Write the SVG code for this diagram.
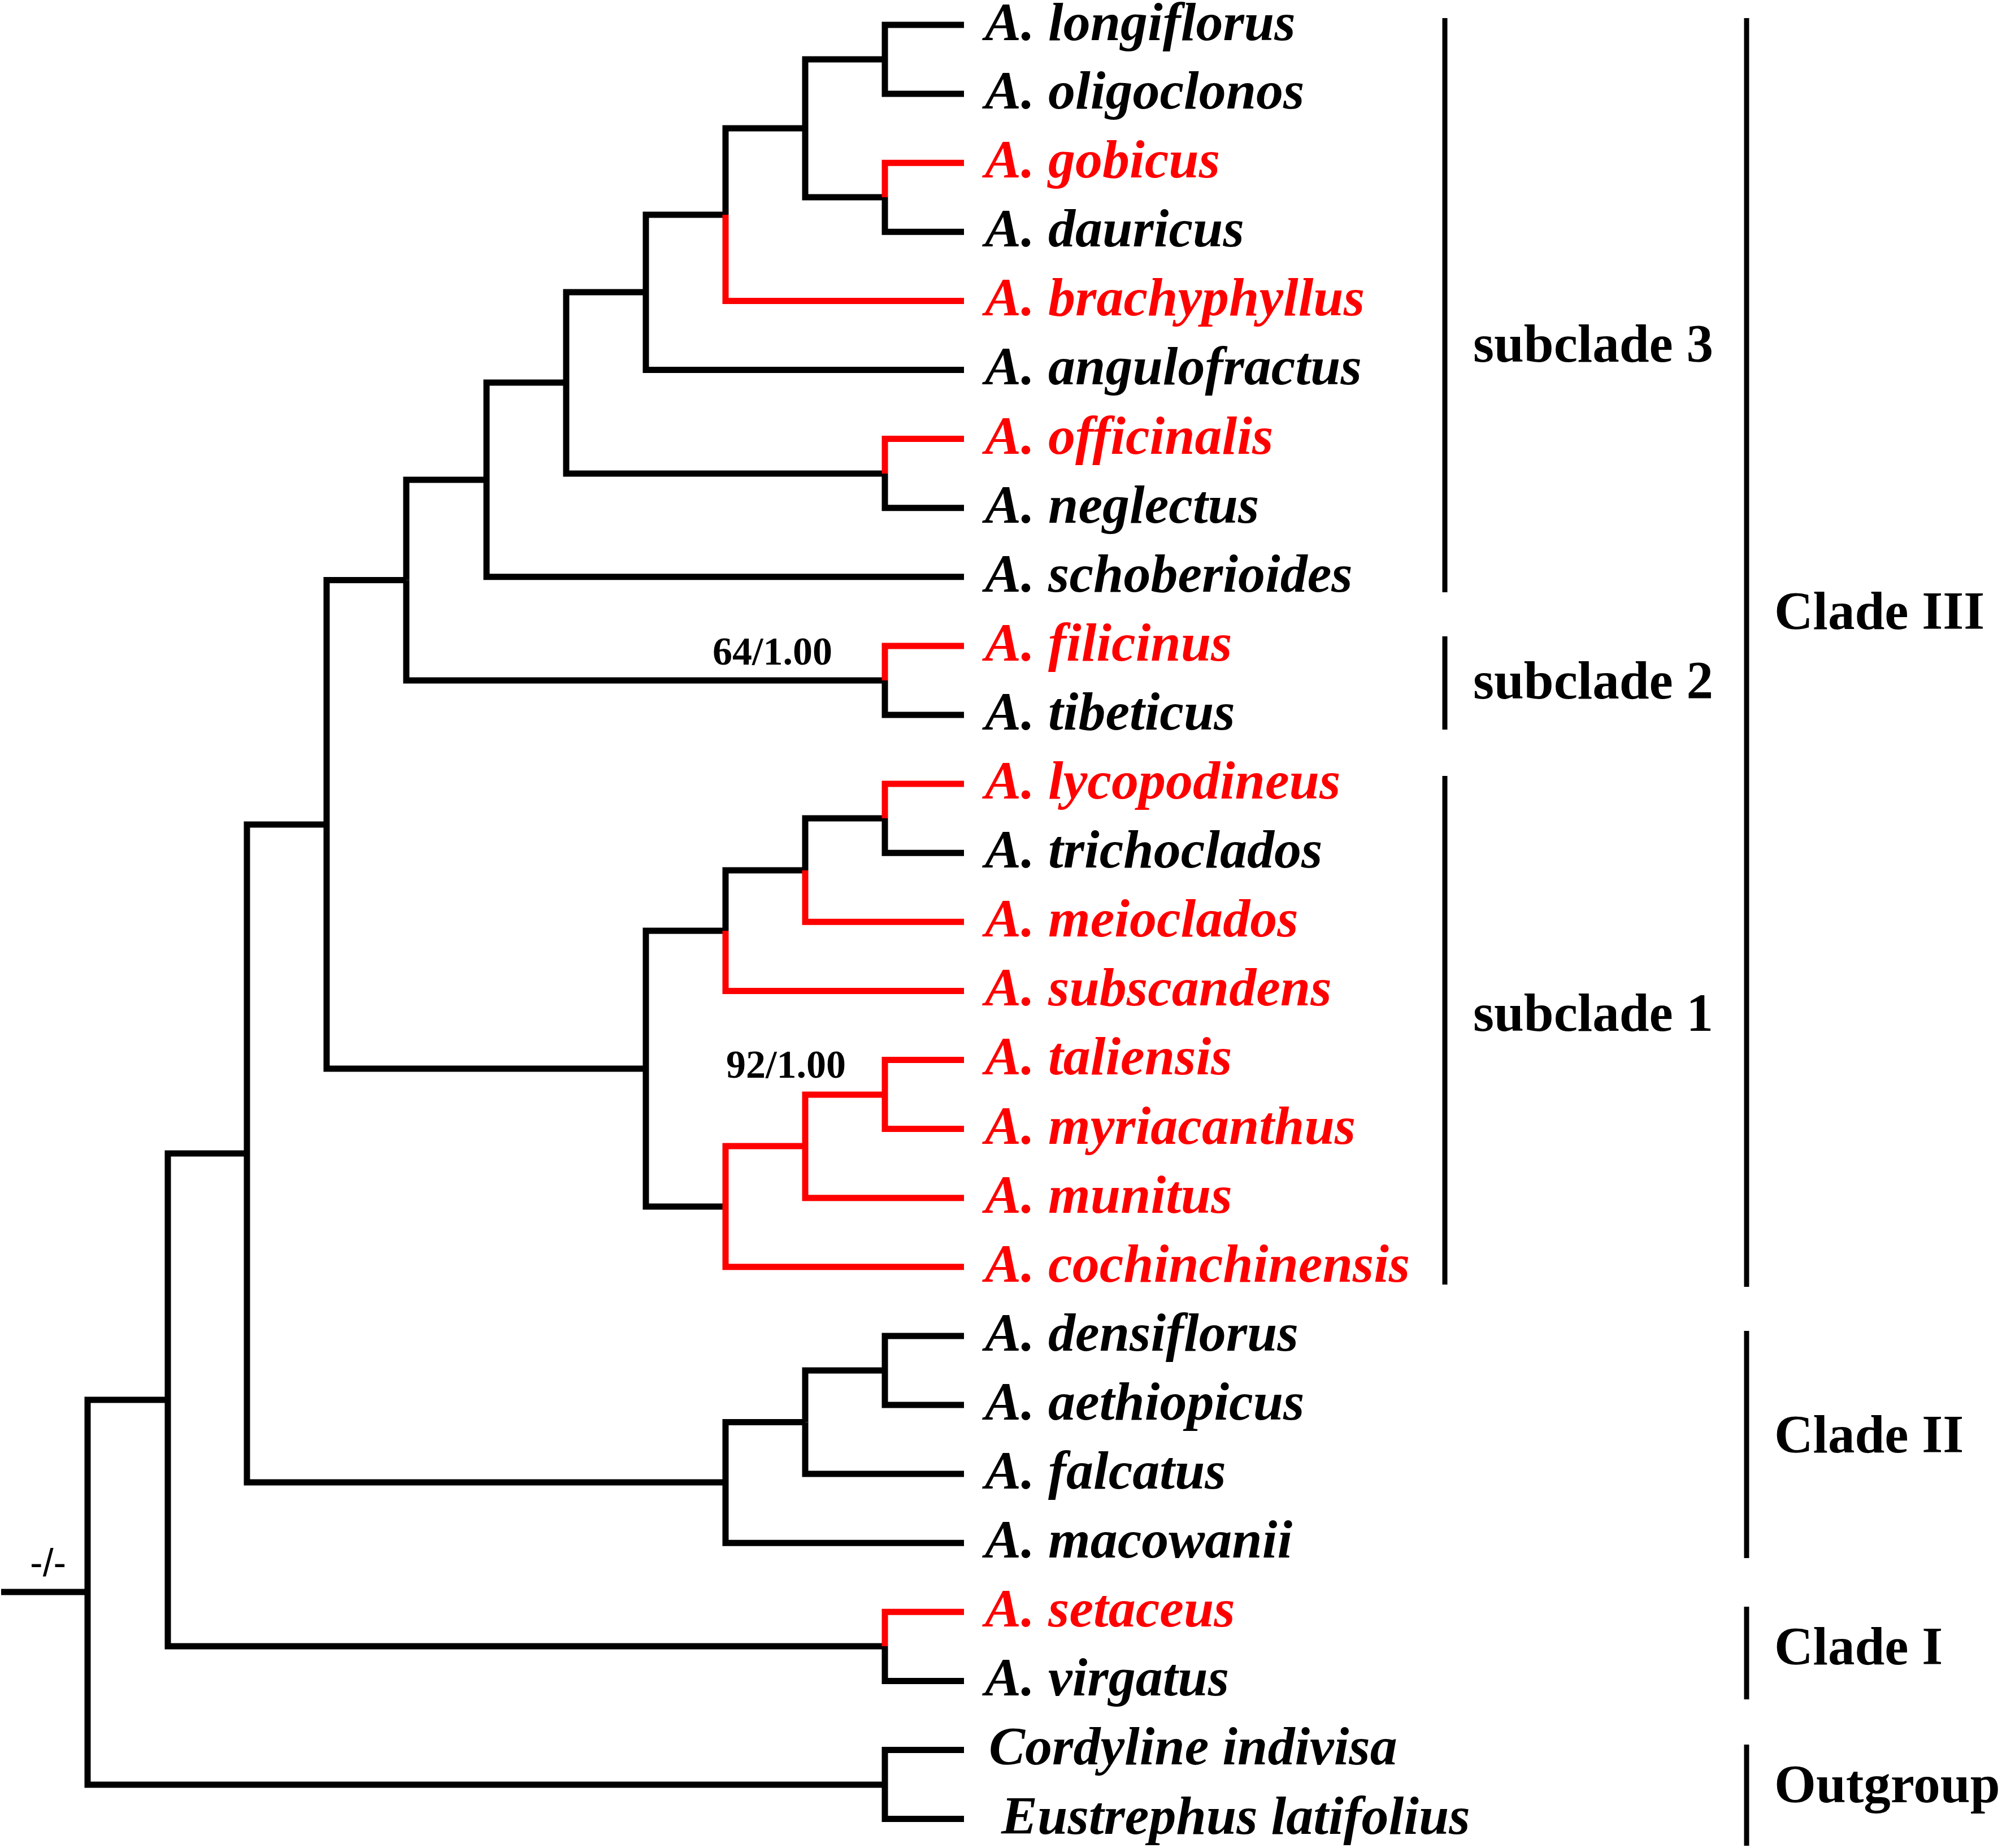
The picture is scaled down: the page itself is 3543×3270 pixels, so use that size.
<svg xmlns="http://www.w3.org/2000/svg" width="3543" height="3270" viewBox="0 0 3543 3270">
<style>
.b{fill:none;stroke:#000;stroke-width:11;stroke-linejoin:miter}
.r{fill:none;stroke:#f00;stroke-width:11;stroke-linejoin:miter}
.bar{stroke:#000;stroke-width:9}
.leaf{font-family:"Liberation Serif","Times New Roman",serif;font-weight:bold;font-style:italic;font-size:96px;fill:#000}
.red{fill:#f00}
.clade{font-family:"Liberation Serif","Times New Roman",serif;font-weight:bold;font-size:95px;fill:#000}
.sup{font-family:"Liberation Serif","Times New Roman",serif;font-weight:bold;font-size:70px;fill:#000}
.root{font-family:"Liberation Sans",Arial,sans-serif;font-size:68px;fill:#000}
</style>
<rect width="3543" height="3270" fill="#fff"/>
<g id="connectors">
<path class="b" d="M2 2817H155"/>
<path class="b" d="M155 2817V2477H297"/>
<path class="b" d="M155 2817V3158H1566"/>
<path class="b" d="M1566 3158V3096.5H1706"/>
<path class="b" d="M1566 3158V3218.6H1706"/>
<path class="b" d="M297 2477V2041H437"/>
<path class="b" d="M297 2477V2913H1566"/>
<path class="r" d="M1566 2913V2852.3H1706"/>
<path class="b" d="M1566 2913V2974.4H1706"/>
<path class="b" d="M437 2041V1459H578"/>
<path class="b" d="M437 2041V2623H1284"/>
<path class="b" d="M1284 2623V2516.5H1425"/>
<path class="b" d="M1284 2623V2730.2H1706"/>
<path class="b" d="M1425 2516.5V2425H1566"/>
<path class="b" d="M1425 2516.5V2608.1H1706"/>
<path class="b" d="M1566 2425V2363.9H1706"/>
<path class="b" d="M1566 2425V2486H1706"/>
<path class="b" d="M578 1459V1026.5H719"/>
<path class="b" d="M578 1459V1891H1143"/>
<path class="b" d="M1143 1891V1647H1284"/>
<path class="b" d="M1143 1891V2135H1284"/>
<path class="b" d="M1284 1647V1540H1425"/>
<path class="r" d="M1284 1647V1753.4H1706"/>
<path class="b" d="M1425 1540V1448H1566"/>
<path class="r" d="M1425 1540V1631.3H1706"/>
<path class="r" d="M1566 1448V1387.1H1706"/>
<path class="b" d="M1566 1448V1509.2H1706"/>
<path class="r" d="M1284 2135V2028H1425"/>
<path class="r" d="M1284 2135V2241.8H1706"/>
<path class="r" d="M1425 2028V1937H1566"/>
<path class="r" d="M1425 2028V2119.7H1706"/>
<path class="r" d="M1566 1937V1875.5H1706"/>
<path class="r" d="M1566 1937V1997.6H1706"/>
<path class="b" d="M719 1026.5V849H861"/>
<path class="b" d="M719 1026.5V1204H1566"/>
<path class="r" d="M1566 1204V1142.9H1706"/>
<path class="b" d="M1566 1204V1265H1706"/>
<path class="b" d="M861 849V677H1002"/>
<path class="b" d="M861 849V1020.8H1706"/>
<path class="b" d="M1002 677V517H1143"/>
<path class="b" d="M1002 677V838H1566"/>
<path class="r" d="M1566 838V776.6H1706"/>
<path class="b" d="M1566 838V898.7H1706"/>
<path class="b" d="M1143 517V380H1284"/>
<path class="b" d="M1143 517V654.5H1706"/>
<path class="b" d="M1284 380V227H1425"/>
<path class="r" d="M1284 380V532.4H1706"/>
<path class="b" d="M1425 227V105H1566"/>
<path class="b" d="M1425 227V349H1566"/>
<path class="b" d="M1566 105V44H1706"/>
<path class="b" d="M1566 105V166.1H1706"/>
<path class="r" d="M1566 349V288.2H1706"/>
<path class="b" d="M1566 349V410.3H1706"/>
</g>
<g id="support-labels">
<text id="root-support" class="root" x="53" y="2789">-/-</text>
<text id="support-64" class="sup" x="1261" y="1176">64/1.00</text>
<text id="support-92" class="sup" x="1285" y="1907">92/1.00</text>
</g>
<g id="leaves">
<g id="leaf-longiflorus"><text class="leaf" x="1743" y="71">A. longiflorus</text></g>
<g id="leaf-oligoclonos"><text class="leaf" x="1743" y="192">A. oligoclonos</text></g>
<g id="leaf-gobicus"><text class="leaf red" x="1743" y="314">A. gobicus</text></g>
<g id="leaf-dauricus"><text class="leaf" x="1743" y="436">A. dauricus</text></g>
<g id="leaf-brachyphyllus"><text class="leaf red" x="1743" y="558">A. brachyphyllus</text></g>
<g id="leaf-angulofractus"><text class="leaf" x="1743" y="680">A. angulofractus</text></g>
<g id="leaf-officinalis"><text class="leaf red" x="1743" y="803">A. officinalis</text></g>
<g id="leaf-neglectus"><text class="leaf" x="1743" y="925">A. neglectus</text></g>
<g id="leaf-schoberioides"><text class="leaf" x="1743" y="1047">A. schoberioides</text></g>
<g id="leaf-filicinus"><text class="leaf red" x="1743" y="1169">A. filicinus</text></g>
<g id="leaf-tibeticus"><text class="leaf" x="1743" y="1291">A. tibeticus</text></g>
<g id="leaf-lycopodineus"><text class="leaf red" x="1743" y="1413">A. lycopodineus</text></g>
<g id="leaf-trichoclados"><text class="leaf" x="1743" y="1535">A. trichoclados</text></g>
<g id="leaf-meioclados"><text class="leaf red" x="1743" y="1657">A. meioclados</text></g>
<g id="leaf-subscandens"><text class="leaf red" x="1743" y="1779">A. subscandens</text></g>
<g id="leaf-taliensis"><text class="leaf red" x="1743" y="1901">A. taliensis</text></g>
<g id="leaf-myriacanthus"><text class="leaf red" x="1743" y="2024">A. myriacanthus</text></g>
<g id="leaf-munitus"><text class="leaf red" x="1743" y="2146">A. munitus</text></g>
<g id="leaf-cochinchinensis"><text class="leaf red" x="1743" y="2268">A. cochinchinensis</text></g>
<g id="leaf-densiflorus"><text class="leaf" x="1743" y="2390">A. densiflorus</text></g>
<g id="leaf-aethiopicus"><text class="leaf" x="1743" y="2512">A. aethiopicus</text></g>
<g id="leaf-falcatus"><text class="leaf" x="1743" y="2634">A. falcatus</text></g>
<g id="leaf-macowanii"><text class="leaf" x="1743" y="2756">A. macowanii</text></g>
<g id="leaf-setaceus"><text class="leaf red" x="1743" y="2878">A. setaceus</text></g>
<g id="leaf-virgatus"><text class="leaf" x="1743" y="3000">A. virgatus</text></g>
<g id="leaf-cordyline"><text class="leaf" x="1750" y="3122">Cordyline indivisa</text></g>
<g id="leaf-eustrephus"><text class="leaf" x="1772" y="3245">Eustrephus latifolius</text></g>
</g>
<g id="clade-labels">
<g id="subclade3"><line class="bar" x1="2557" y1="32" x2="2557" y2="1048"/><text class="clade" x="2607" y="640">subclade 3</text></g>
<g id="subclade2"><line class="bar" x1="2557" y1="1126" x2="2557" y2="1291"/><text class="clade" x="2607" y="1236">subclade 2</text></g>
<g id="subclade1"><line class="bar" x1="2557" y1="1373" x2="2557" y2="2273"/><text class="clade" x="2607" y="1824">subclade 1</text></g>
<g id="cladeIII"><line class="bar" x1="3091" y1="32" x2="3091" y2="2277"/><text class="clade" x="3140" y="1113">Clade III</text></g>
<g id="cladeII"><line class="bar" x1="3091" y1="2355" x2="3091" y2="2757"/><text class="clade" x="3140" y="2570">Clade II</text></g>
<g id="cladeI"><line class="bar" x1="3091" y1="2843" x2="3091" y2="3007"/><text class="clade" x="3140" y="2945">Clade I</text></g>
<g id="outgroup"><line class="bar" x1="3091" y1="3087" x2="3091" y2="3266"/><text class="clade" x="3140" y="3189">Outgroup</text></g>
</g>
</svg>
